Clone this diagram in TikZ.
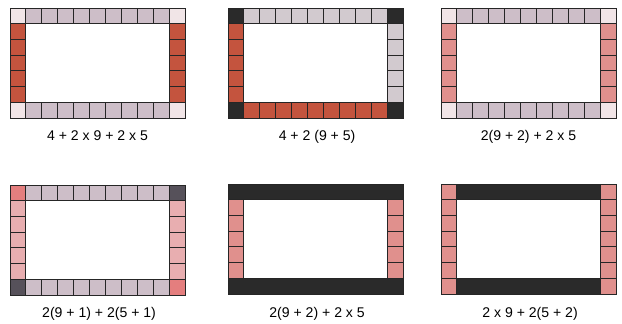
\documentclass[tikz,border=0pt]{standalone}
\usepackage{fontspec}
\setmainfont{Liberation Sans}
\definecolor{brick}{HTML}{C4543E}
\definecolor{rose}{HTML}{E0908D}
\definecolor{petal}{HTML}{E8AEB0}
\definecolor{coral}{HTML}{E47E7E}
\definecolor{mauve}{HTML}{CDBEC8}
\definecolor{ash}{HTML}{D2CACF}
\definecolor{blush}{HTML}{F1E5E7}
\definecolor{ink}{HTML}{2A2A2A}
\definecolor{slate}{HTML}{56515A}

\begin{document}
\begin{tikzpicture}[x=0.025cm,y=-0.025cm,
  tile/.style={draw=black!85,line width=0.6pt},
  bar/.style={draw=black!85,line width=0.6pt,fill=ink},
  sum/.style={font=\fontsize{10}{12}\selectfont,inner sep=0pt},
  cell/.style={x=0.3975cm,y=-0.3925cm}]
  \useasboundingbox (0,0) rectangle (622,323);
  % 4 + 2 x 9 + 2 x 5
  \begin{scope}[shift={(10,8)},cell]
    \foreach \i in {1,...,9} {\draw[tile,fill=mauve] (\i,0) rectangle ++(1,1); \draw[tile,fill=mauve] (\i,6) rectangle ++(1,1);}
    \foreach \j in {1,...,5} {\draw[tile,fill=brick] (0,\j) rectangle ++(1,1); \draw[tile,fill=brick] (10,\j) rectangle ++(1,1);}
    \foreach \i/\j in {0/0,10/0,0/6,10/6} \draw[tile,fill=blush] (\i,\j) rectangle ++(1,1);
    \node[sum] (s1) at (5.5,8.1) {4 + 2 x 9 + 2 x 5};
  \end{scope}
  % 4 + 2 (9 + 5)
  \begin{scope}[shift={(228,8)},cell]
    \foreach \i in {1,...,9} {\draw[tile,fill=ash] (\i,0) rectangle ++(1,1); \draw[tile,fill=brick] (\i,6) rectangle ++(1,1);}
    \foreach \j in {1,...,5} {\draw[tile,fill=brick] (0,\j) rectangle ++(1,1); \draw[tile,fill=ash] (10,\j) rectangle ++(1,1);}
    \foreach \i/\j in {0/0,10/0,0/6,10/6} \draw[tile,fill=ink] (\i,\j) rectangle ++(1,1);
    \node[sum] (s2) at (5.6,8.2) {4 + 2 (9 + 5)};
  \end{scope}
  % 2(9 + 2) + 2 x 5
  \begin{scope}[shift={(441,8)},cell]
    \foreach \i in {1,...,9} {\draw[tile,fill=mauve] (\i,0) rectangle ++(1,1); \draw[tile,fill=mauve] (\i,6) rectangle ++(1,1);}
    \foreach \j in {1,...,5} {\draw[tile,fill=rose] (0,\j) rectangle ++(1,1); \draw[tile,fill=rose] (10,\j) rectangle ++(1,1);}
    \foreach \i/\j in {0/0,10/0,0/6,10/6} \draw[tile,fill=blush] (\i,\j) rectangle ++(1,1);
    \node[sum] (s3) at (5.5,8.2) {2(9 + 2) + 2 x 5};
  \end{scope}
  % 2(9 + 1) + 2(5 + 1)
  \begin{scope}[shift={(10,185)},cell]
    \foreach \i in {1,...,9} {\draw[tile,fill=mauve] (\i,0) rectangle ++(1,1); \draw[tile,fill=mauve] (\i,6) rectangle ++(1,1);}
    \foreach \j in {1,...,5} {\draw[tile,fill=petal] (0,\j) rectangle ++(1,1); \draw[tile,fill=petal] (10,\j) rectangle ++(1,1);}
    \foreach \i/\j/\c in {0/0/coral,10/0/slate,0/6/slate,10/6/coral} \draw[tile,fill=\c] (\i,\j) rectangle ++(1,1);
    \node[sum] (s4) at (5.6,8.2) {2(9 + 1) + 2(5 + 1)};
  \end{scope}
  % 2(9 + 2) + 2 x 5
  \begin{scope}[shift={(228,184)},cell]
    \draw[bar] (0,0) rectangle (11,1);
    \draw[bar] (0,6) rectangle (11,7);
    \foreach \j in {1,...,5} {\draw[tile,fill=rose] (0,\j) rectangle ++(1,1); \draw[tile,fill=rose] (10,\j) rectangle ++(1,1);}
    \node[sum] (s5) at (5.6,8.3) {2(9 + 2) + 2 x 5};
  \end{scope}
  % 2 x 9 + 2(5 + 2)
  \begin{scope}[shift={(441,184)},cell]
    \draw[bar] (1,0) rectangle (10,1);
    \draw[bar] (1,6) rectangle (10,7);
    \foreach \j in {0,...,6} {\draw[tile,fill=rose] (0,\j) rectangle ++(1,1); \draw[tile,fill=rose] (10,\j) rectangle ++(1,1);}
    \node[sum] (s6) at (5.6,8.3) {2 x 9 + 2(5 + 2)};
  \end{scope}
\end{tikzpicture}
\end{document}
